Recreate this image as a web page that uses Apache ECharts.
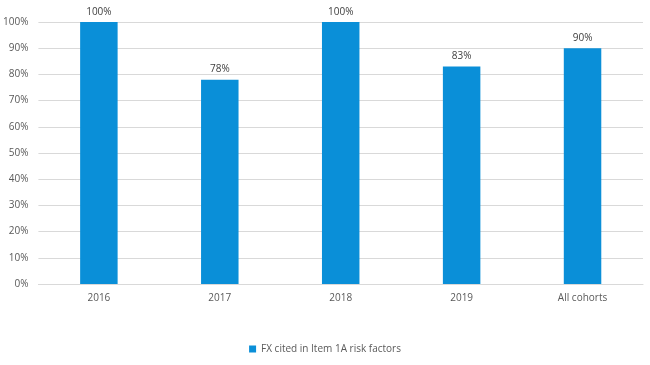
<!DOCTYPE html>
<html><head><meta charset="utf-8">
<script src="https://cdn.jsdelivr.net/npm/echarts@6/dist/echarts.min.js"></script>
<style>html,body{margin:0;padding:0;background:#fff}#c{width:650px;height:365px}</style>
</head><body><div id="c"></div>
<script>
const categories = ['2016', '2017', '2018', '2019', 'All cohorts'];
const values = [100, 78, 100, 83, 90];
const seriesName = 'FX cited in Item 1A risk factors';

const chart = echarts.init(document.getElementById('c'));
chart.setOption({
  animation: false,
  textStyle: { fontFamily: 'Open Sans, Liberation Sans, sans-serif' },
  grid: { left: 38, right: 7, top: 22, bottom: 81, containLabel: false },
  legend: {
    bottom: 6, left: 'center', itemWidth: 7, itemHeight: 7, icon: 'rect', itemGap: 4,
    textStyle: { color: '#595959', fontSize: 10 }
  },
  xAxis: {
    type: 'category', data: categories,
    axisLine: { lineStyle: { color: '#d9d9d9' } },
    axisTick: { show: false },
    axisLabel: { color: '#595959', fontSize: 10, margin: 9 }
  },
  yAxis: {
    type: 'value', min: 0, max: 100, interval: 10,
    axisLine: { show: false }, axisTick: { show: false },
    axisLabel: { color: '#595959', fontSize: 10, formatter: '{value}%', margin: 10 },
    splitLine: { lineStyle: { color: '#d9d9d9' } }
  },
  series: [{
    name: seriesName, type: 'bar', data: values, barWidth: '31%',
    itemStyle: { color: '#0a8fd8' },
    label: { show: true, position: 'top', formatter: '{c}%', color: '#404040', fontSize: 10, distance: 5 }
  }]
});
</script></body></html>
